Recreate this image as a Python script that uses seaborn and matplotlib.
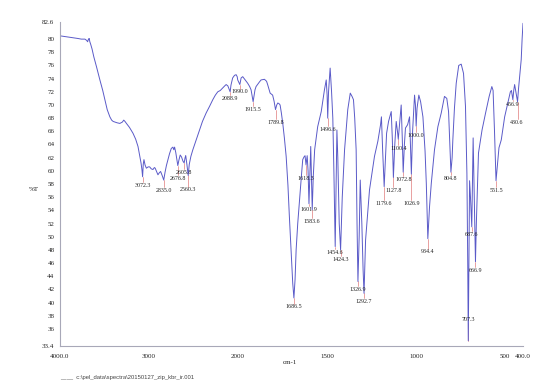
import numpy as np
import pandas as pd
import matplotlib
matplotlib.use("Agg")
import matplotlib.pyplot as plt
import seaborn as sns

# ---------------- data ----------------
wavenumber = [
    4000, 3950, 3900, 3850, 3800, 3760, 3720, 3700, 3690, 3680, 3672, 3665, 3655, 3640, 3620,
    3590, 3552, 3520, 3496, 3470, 3440, 3420, 3403, 3360, 3328, 3300, 3284, 3270, 3254, 3220,
    3180, 3150, 3124, 3105, 3090, 3080, 3072.3, 3065, 3057, 3045, 3030, 3010, 2993, 2975, 2956,
    2940, 2931, 2915, 2900, 2885, 2870, 2850, 2835.0, 2820, 2805, 2788, 2770, 2750, 2732, 2722,
    2713, 2700, 2687, 2676.8, 2665, 2650, 2635, 2620, 2605.8, 2595, 2588, 2575, 2560.3, 2548, 2530,
    2508, 2470, 2433, 2400, 2358, 2320, 2284, 2255, 2228, 2200, 2172, 2150, 2134, 2115, 2100,
    2088.9, 2080, 2061, 2040, 2022, 2010, 2004, 1990.0, 1983, 1974, 1960, 1946, 1935, 1927, 1915.5,
    1905, 1899, 1880, 1871, 1852, 1840, 1834, 1820, 1806, 1798, 1789.8, 1783, 1777, 1770, 1764,
    1757, 1749, 1740, 1730, 1720, 1712, 1700, 1693, 1686.5, 1680, 1674, 1665, 1655, 1645, 1637,
    1630, 1624, 1618.3, 1612, 1607, 1601.9, 1597, 1592, 1588, 1583.6, 1578, 1570, 1553, 1533, 1515,
    1505, 1500, 1496.6, 1492, 1483, 1475, 1468, 1462, 1454.6, 1450, 1445, 1440, 1432, 1424.3, 1415,
    1402, 1384, 1370, 1360, 1352, 1345, 1337, 1332, 1326.9, 1320, 1314, 1305, 1298, 1292.7, 1284,
    1262, 1234, 1215, 1200, 1195, 1188, 1179.6, 1172, 1166, 1155, 1140, 1134, 1127.8, 1120, 1112,
    1105, 1100.4, 1092, 1084, 1078, 1072.8, 1066, 1060, 1048, 1037, 1032, 1026.9, 1020, 1009, 1004,
    1000.0, 995, 985, 975, 962, 950, 943, 934.4, 925, 915, 897, 878, 859, 841, 828,
    818, 812, 804.8, 798, 794, 785, 775, 761, 747, 734, 723, 715, 710, 707.3, 703,
    700, 695, 687.6, 683, 680, 675, 666.9, 662, 650, 630, 610, 590, 575, 568, 560,
    551.5, 545, 535, 522, 503, 485, 471, 465, 460, 456.9, 452, 447, 440, 430.6, 425,
    419, 410, 405, 400,
]
transmittance = [
    80.5, 80.4, 80.3, 80.2, 80.1, 80.0, 80.0, 79.8, 79.6, 80.0, 80.1, 79.6, 79.2, 78.5, 77.3,
    75.8, 73.8, 72.2, 70.8, 69.3, 68.2, 67.7, 67.5, 67.3, 67.2, 67.4, 67.7, 67.5, 67.2, 66.6,
    65.7, 64.8, 63.7, 62.3, 61.2, 60.2, 59.1, 61.0, 61.7, 60.9, 60.4, 60.6, 60.6, 60.3, 60.2,
    60.5, 60.4, 59.9, 59.4, 59.7, 59.9, 59.2, 58.6, 59.8, 60.8, 61.7, 62.6, 63.4, 63.6, 63.2,
    63.6, 62.8, 61.7, 60.8, 61.6, 62.4, 62.1, 61.5, 61.2, 62.0, 62.3, 61.0, 59.3, 61.0, 62.2,
    63.2, 64.7, 66.2, 67.5, 68.8, 69.8, 70.8, 71.5, 72.0, 72.2, 72.6, 72.9, 73.1, 72.9, 72.4,
    72.0, 73.0, 74.1, 74.5, 74.6, 74.3, 73.8, 73.1, 74.1, 74.3, 73.8, 73.3, 72.8, 72.3, 70.5,
    72.3, 72.8, 73.5, 73.8, 73.9, 73.6, 73.1, 71.8, 71.5, 70.6, 69.3, 70.0, 70.3, 70.2, 70.0,
    68.8, 67.2, 65.0, 62.2, 57.8, 53.1, 46.5, 42.9, 40.7, 43.5, 48.0, 52.0, 55.6, 59.0, 61.7,
    62.1, 62.3, 60.9, 62.3, 60.0, 55.0, 59.5, 63.7, 59.0, 54.1, 59.0, 63.2, 66.7, 69.0, 72.3,
    73.8, 71.5, 68.0, 72.0, 75.6, 72.0, 68.0, 60.0, 48.5, 57.0, 66.2, 62.0, 52.0, 48.0, 56.0,
    63.2, 69.3, 71.8, 71.3, 70.8, 68.0, 63.2, 52.0, 43.2, 50.0, 58.6, 52.0, 45.0, 41.4, 49.5,
    57.1, 62.2, 64.5, 67.0, 68.2, 63.0, 57.6, 62.0, 65.7, 67.5, 69.0, 65.0, 59.0, 64.0, 67.5,
    66.0, 64.8, 67.5, 70.0, 65.0, 59.8, 64.0, 66.5, 67.0, 68.2, 64.0, 59.5, 66.0, 71.5, 70.0,
    66.8, 69.5, 71.5, 70.5, 68.2, 63.0, 58.1, 49.7, 54.5, 58.1, 63.2, 66.7, 68.8, 71.3, 71.0,
    69.0, 65.0, 59.8, 62.0, 64.7, 69.5, 73.3, 76.0, 76.2, 74.8, 69.8, 59.6, 45.0, 34.2, 48.0,
    58.5, 56.0, 51.5, 60.0, 65.0, 58.0, 46.2, 52.0, 62.7, 66.2, 68.8, 71.3, 72.8, 72.2, 66.0,
    58.5, 60.5, 63.5, 64.7, 68.2, 70.3, 72.0, 72.2, 71.3, 70.8, 72.2, 73.1, 72.0, 70.5, 72.5,
    74.3, 76.9, 80.0, 82.4,
]

peak_wn = [3072.3, 2835.0, 2676.8, 2605.8, 2560.3, 2088.9, 1990.0, 1915.5, 1789.8, 1686.5,
           1618.3, 1601.9, 1583.6, 1496.6, 1454.6, 1424.3, 1326.9, 1292.7, 1179.6, 1127.8,
           1100.4, 1072.8, 1026.9, 1000.0, 934.4, 804.8, 707.3, 687.6, 666.9, 551.5,
           456.9, 430.6]
peak_text = ["3072.3", "2835.0", "2676.8", "2605.8", "2560.3", "2088.9", "1990.0", "1915.5",
             "1789.8", "1686.5", "1618.3", "1601.9", "1583.6", "1496.6", "1454.6", "1424.3",
             "1326.9", "1292.7", "1179.6", "1127.8", "1100.4", "1072.8", "1026.9", "1000.0",
             "934.4", "804.8", "707.3", "687.6", "666.9", "551.5", "456.9", "430.6"]

y_ticks = [33.4] + list(range(36, 81, 2)) + [82.6]
y_tick_labels = ["33.4"] + [str(v) for v in range(36, 81, 2)] + ["82.6"]
x_ticks = [4000, 3000, 2000, 1500, 1000, 500, 400]
x_tick_labels = ["4000.0", "3000", "2000", "1500", "1000", "500", "400.0"]

# ---------------- layout (label placement, in %T) ----------------
label_level = [57.8, 57.0, 58.9, 59.8, 57.1, 71.0, 72.0, 69.3, 67.3, 39.35,
               58.9, 54.2, 52.3, 66.3, 47.65, 46.6, 42.0, 40.2, 55.0, 57.0,
               63.45, 58.7, 55.0, 65.4, 47.7, 58.9, 37.4, 50.4, 44.9, 57.0,
               70.1, 67.3]
label_dx = [0] * 31 + [5]   # shift in wavenumber units for the crowded last label

df = pd.DataFrame({"wavenumber": wavenumber, "T": transmittance})

sns.set_style("white")
plt.rcParams["font.family"] = ["Liberation Serif", "DejaVu Serif"]

fig = plt.figure(figsize=(5.55, 3.9), dpi=100)
ax = fig.add_axes([60 / 555, 1 - 346 / 390, (523 - 60) / 555, (346 - 22) / 390])


def fwd(x):
    x = np.asarray(x, dtype=float)
    return np.where(x > 2000, 2000 + (x - 2000) / 2.0, x)


def inv(x):
    x = np.asarray(x, dtype=float)
    return np.where(x > 2000, 2000 + (x - 2000) * 2.0, x)


ax.set_xscale("function", functions=(fwd, inv))

line_color = "#5a5ac8"
sns.lineplot(data=df, x="wavenumber", y="T", ax=ax, color=line_color, lw=0.7,
             sort=False, estimator=None)

ax.set_xlim(4000, 400)
ax.set_ylim(33.4, 82.6)

# peak annotations
wn_inc = np.array(wavenumber)[::-1]
t_inc = np.array(transmittance)[::-1]
for wn, txt, lev, dx in zip(peak_wn, peak_text, label_level, label_dx):
    t_peak = float(np.interp(wn, wn_inc, t_inc))
    half = 0.5
    if lev < t_peak:
        ax.plot([wn, wn], [t_peak, lev + half], color="#e07a7a", lw=0.5, zorder=1)
    else:
        ax.plot([wn, wn], [lev - half, t_peak], color="#e07a7a", lw=0.5, zorder=1)
    ax.text(wn + dx, lev, txt, fontsize=4.3, ha="center", va="center", color="#222222",
            zorder=3)

ax.set_yticks(y_ticks)
ax.set_yticklabels(y_tick_labels)
ax.set_xticks(x_ticks)
ax.set_xticklabels(x_tick_labels)
ax.minorticks_off()
ax.tick_params(axis="both", labelsize=5, length=2.5, width=0.5, color="#9a9aa8",
               pad=1.5, labelcolor="#222222")
ax.tick_params(axis="x", pad=3)
ax.set_xlabel("")
ax.set_ylabel("")

for side in ["top", "right"]:
    ax.spines[side].set_visible(False)
for side in ["left", "bottom"]:
    ax.spines[side].set_color("#a8a8b8")
    ax.spines[side].set_linewidth(0.8)

fig.text(34 / 555, 1 - 189 / 390, "%T", fontsize=5, ha="center", va="center", color="#222222")
fig.text(290 / 555, 1 - 363 / 390, "cm-1", fontsize=5, ha="center", va="center", color="#222222")
fig.text(60 / 555, 1 - 378 / 390, "____  c:\\pel_data\\spectra\\20150127_zip_kbr_ir.001",
         fontsize=4.2, ha="left", va="center", color="#444444",
         family=["Liberation Sans", "DejaVu Sans"])

fig.savefig("out.png", dpi=100)
